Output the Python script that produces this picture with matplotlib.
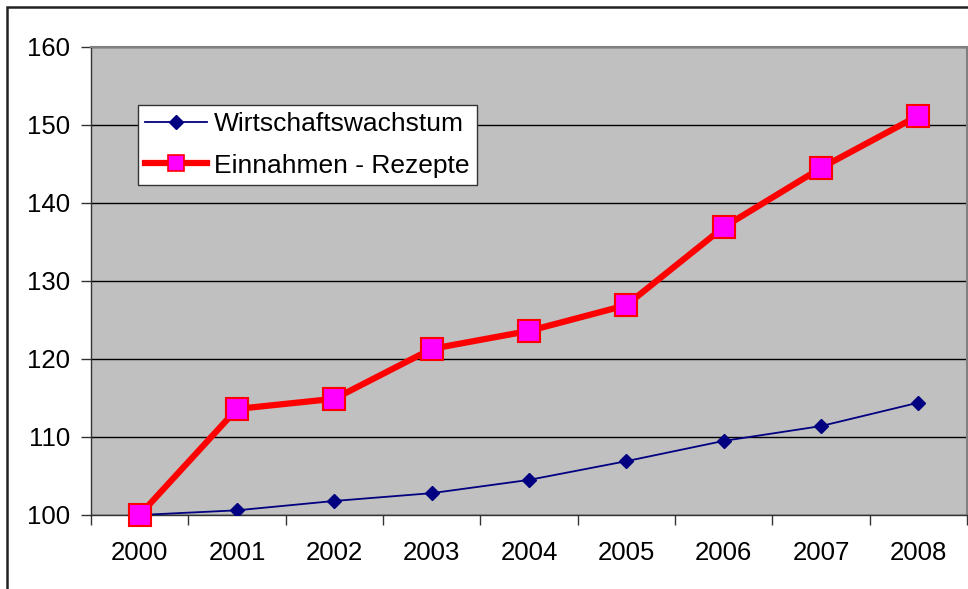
import matplotlib
matplotlib.use("Agg")
import matplotlib.pyplot as plt
import matplotlib.patches as patches
from matplotlib.lines import Line2D

plt.rcParams['font.family'] = ['Liberation Sans', 'DejaVu Sans']

years = ['2000', '2001', '2002', '2003', '2004', '2005', '2006', '2007', '2008']
wachstum = [100.0, 100.6, 101.8, 102.8, 104.5, 106.9, 109.5, 111.4, 114.4]
einnahmen = [100.0, 113.6, 114.9, 121.3, 123.6, 126.9, 136.9, 144.5, 151.2]

W, H = 968, 589
fig = plt.figure(figsize=(W / 100, H / 100), dpi=100)
ax = fig.add_axes([91 / W, 1 - 515 / H, (967 - 91) / W, (515 - 47) / H])

# outer chart border (only left/top visible in the picture)
fig.patches.append(patches.Rectangle((7 / W, -0.1), 1.2, 1 - 7 / H + 0.1,
                                     transform=fig.transFigure, fill=False,
                                     edgecolor='#222222', linewidth=1.8))

ax.set_facecolor('#c0c0c0')
x = range(len(years))

ax.plot(x, wachstum, color='#000080', linewidth=1.3, marker='D', markersize=7,
        markerfacecolor='#000080', markeredgecolor='#000080', zorder=3)
ax.plot(x, einnahmen, color='#ff0000', linewidth=4.5, marker='s', markersize=16,
        markerfacecolor='#ff00ff', markeredgecolor='#ff0000', markeredgewidth=1.5,
        zorder=4, clip_on=False)

ax.set_xlim(-0.5, len(years) - 0.5)
ax.set_ylim(100, 160)
ax.set_yticks(range(100, 161, 10))
ax.yaxis.grid(True, color='black', linewidth=1)
ax.set_axisbelow(True)

ax.set_xticks(x)
ax.set_xticklabels(years)
ax.set_xticks([i - 0.5 for i in range(len(years) + 1)], minor=True)
ax.tick_params(axis='x', which='major', length=0, pad=19, labelsize=18.5)
ax.tick_params(axis='x', which='minor', length=7, width=1, color='#333333')
ax.tick_params(axis='y', length=7, width=1, color='#333333', labelsize=18.5, pad=8)

for side in ['top', 'right']:
    ax.spines[side].set_color('#808080')
    ax.spines[side].set_linewidth(1.5)
for side in ['left', 'bottom']:
    ax.spines[side].set_color('#333333')
    ax.spines[side].set_linewidth(1)

handles = [
    Line2D([0], [0], color='#000080', linewidth=1.3, marker='D', markersize=7,
           markerfacecolor='#000080', markeredgecolor='#000080'),
    Line2D([0], [0], color='#ff0000', linewidth=4.5, marker='s', markersize=11,
           markerfacecolor='#ff00ff', markeredgecolor='#ff0000', markeredgewidth=1.2),
]
labels = ['Wirtschaftswachstum', 'Einnahmen - Rezepte']
leg = ax.legend(handles, labels, loc='upper left',
                bbox_to_anchor=((138 - 91) / (967 - 91), (515 - 105) / (515 - 47)),
                fontsize=19, frameon=True, fancybox=False, framealpha=1,
                edgecolor='#333333', handlelength=2.35, handletextpad=0.25,
                borderpad=0.28, labelspacing=0.65, borderaxespad=0)
leg.get_frame().set_linewidth(1)

fig.savefig('out.png', dpi=100)
